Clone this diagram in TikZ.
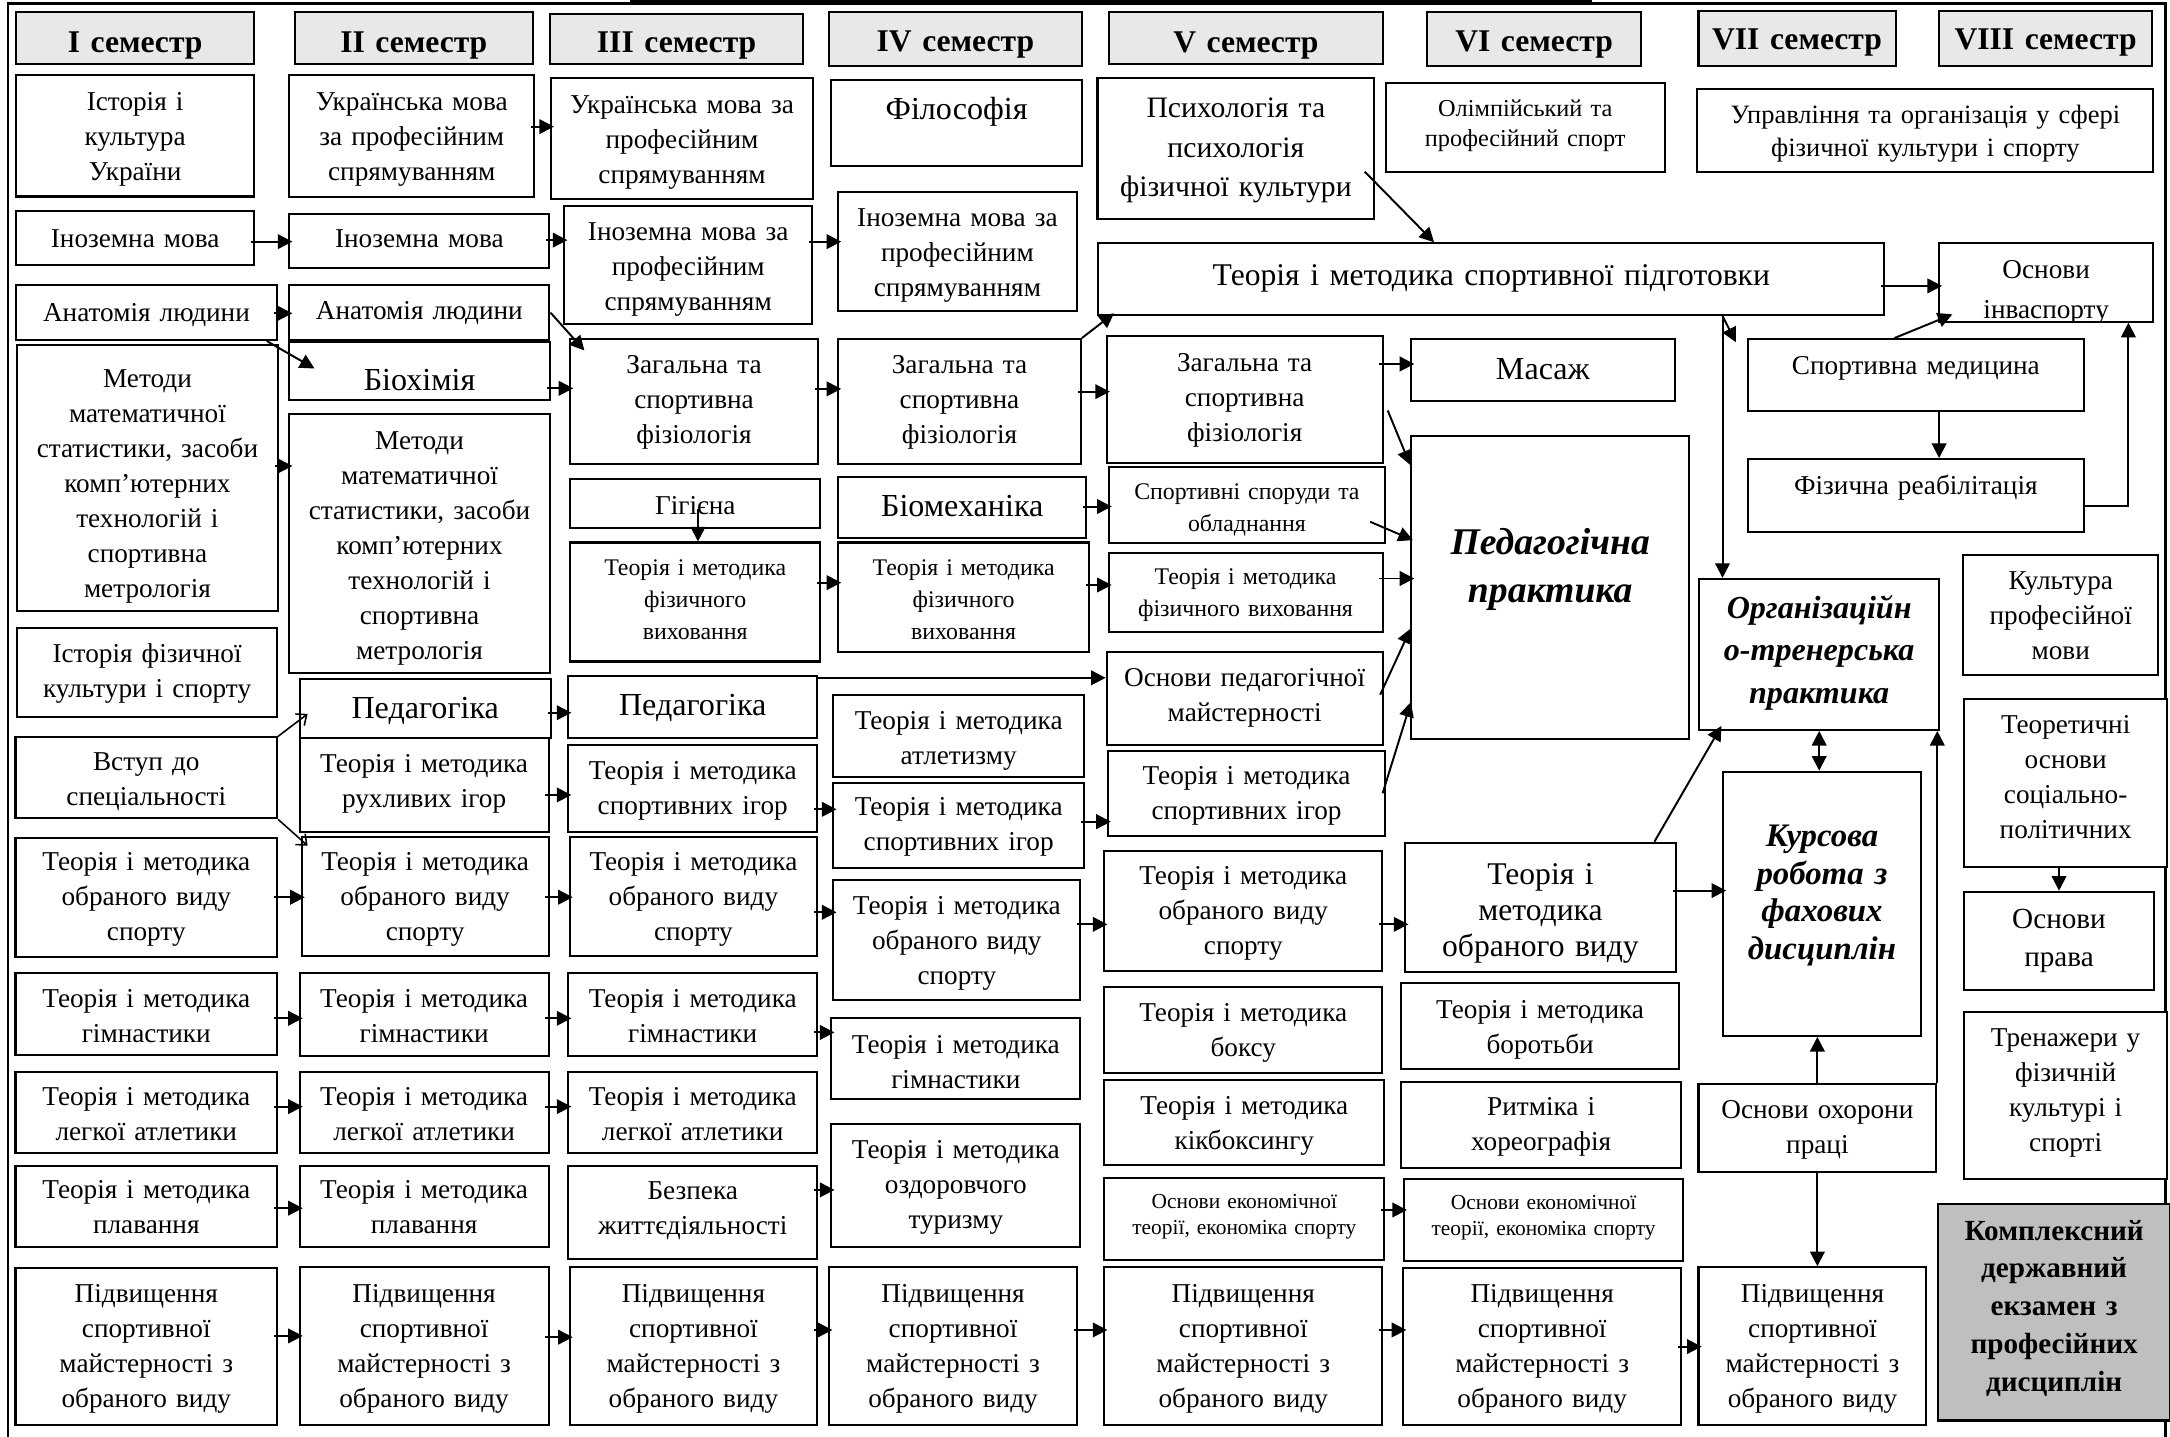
\documentclass[tikz,border=0pt]{standalone}
\usepackage{fontspec}
\setmainfont{Liberation Serif}
\usetikzlibrary{arrows.meta,calc}
\definecolor{hdgray}{gray}{0.91}
\definecolor{exgray}{gray}{0.75}
\newcommand\FtH{\fontsize{13}{15}\selectfont\bfseries}
\newcommand\FtN{\fontsize{11.2}{14.4}\selectfont}
\newcommand\FtS{\fontsize{9.8}{13.1}\selectfont}
\newcommand\FtL{\fontsize{13.2}{15}\selectfont}
\newcommand\FtLL{\fontsize{13}{14.8}\selectfont}
\newcommand\FtXS{\fontsize{8.8}{10.8}\selectfont}
\newcommand\FtP{\fontsize{12.2}{16.3}\selectfont}
\newcommand\FtM{\fontsize{13}{15}\selectfont}
\newcommand\FtO{\fontsize{10}{12.3}\selectfont}
\newcommand\FtU{\fontsize{10.9}{13.7}\selectfont}
\newcommand\FtIn{\fontsize{11.2}{16.5}\selectfont}
\newcommand\FtBI{\fontsize{15.5}{19.5}\selectfont\bfseries\itshape}
\newcommand\FtOrg{\fontsize{13.2}{17.4}\selectfont\bfseries\itshape}
\newcommand\FtK{\fontsize{13.5}{15.4}\selectfont\bfseries\itshape}
\newcommand\FtKD{\fontsize{12}{15.6}\selectfont\bfseries}
\newcommand\FtPr{\fontsize{12}{15.4}\selectfont}
% box: [opts]{name}{x1}{y1}{x2}{y2}{first baseline}{font}{text}
\newcommand\Bx[9][]{%
  \pgfmathsetmacro\BxW{(#5-#3)*0.02}%
  \pgfmathsetmacro\BxH{(#6-#4)*0.02}%
  \pgfmathsetmacro\BxT{(#5-#3+40)*0.02}%
  \node[bx,minimum width=\BxW cm,minimum height=\BxH cm,#1] (#2) at ({(#3+#5)/2},{(#4+#6)/2}) {};%
  \begin{scope}
  \clip (#2.north west) rectangle (#2.south east);
  \node[tx,font=#8,text width=\BxT cm] (#2-t) at ({(#3+#5)/2},#7) {#9};%
  \end{scope}%
}
\newcommand\Harr[3]{\draw[arr] ($(#1.east |- 0,#3)+(-3,0)$) -- ($(#2.west |- 0,#3)+(3,0)$);}
\begin{document}
\begin{tikzpicture}[x=0.02cm,y=-0.02cm,
  bx/.style={draw,line width=0.85pt,inner sep=0pt,fill=white},
  hd/.style={fill=hdgray},
  ex/.style={fill=exgray},
  tx/.style={anchor=base,inner sep=0pt,align=center},
  arr/.style={line width=0.8pt,-{Triangle[length=6pt,width=6pt]}},
  darr/.style={line width=0.8pt,{Triangle[length=6pt,width=6pt]}-{Triangle[length=6pt,width=6pt]}},
  oarr/.style={line width=0.65pt,-{Straight Barb[length=3.5pt,width=6pt]}},
  frm/.style={line width=1.1pt}]
\useasboundingbox (0,0) rectangle (1568,1038);
\draw[frm] (5.7,1045) -- (5.7,2.4) -- (1564.5,2.4) -- (1564.5,1045);
\draw[line width=0.8pt] (455,0.6) -- (1150,0.6);
% headers
\Bx[hd]{H1}{11.6}{8.4}{183.7}{46.5}{38}{\FtH}{I семестр}
\Bx[hd]{H2}{213}{8.4}{385}{46.5}{38}{\FtH}{II семестр}
\Bx[hd]{H3}{397.4}{10}{580.4}{46.5}{38}{\FtH}{III семестр}
\Bx[hd]{H4}{598.7}{8.4}{782}{48}{37.5}{\FtH}{IV семестр}
\Bx[hd]{H5}{801.5}{8.4}{999}{46.5}{38}{\FtH}{V семестр}
\Bx[hd]{H6}{1031}{8.4}{1186}{48}{37}{\FtH}{VI семестр}
\Bx[hd]{H7}{1227.3}{7.7}{1369.7}{47.7}{36}{\FtH}{VII семестр}
\Bx[hd]{H8}{1401.2}{7.7}{1555}{47.7}{36}{\FtH}{VIII семестр}
% column I
\Bx{C1a}{11.6}{54}{183.7}{142}{79.5}{\FtN}{Історія і\\культура\\України}
\Bx{C1b}{11.6}{152.5}{183.7}{191.5}{178.7}{\FtN}{Іноземна мова}
\Bx{C1c}{11.6}{206}{200}{245.7}{232}{\FtN}{Анатомія людини}
\Bx{C1d}{12.4}{249}{200.7}{441.2}{280}{\FtN}{Методи\\математичної\\статистики, засоби\\комп’ютерних\\технологій і\\спортивна\\метрологія}
\Bx{C1e}{12.4}{453.5}{200.2}{518.3}{479}{\FtN}{Історія фізичної\\культури і спорту}
\Bx{C1f}{11.2}{532.8}{200.2}{591.3}{557}{\FtN}{Вступ до\\спеціальності}
\Bx{C1g}{11.2}{605.2}{200.2}{691.2}{629}{\FtN}{Теорія і методика\\обраного виду\\спорту}
\Bx{C1h}{11.2}{703.3}{200.2}{762.2}{728}{\FtN}{Теорія і методика\\гімнастики}
\Bx{C1i}{11.2}{774.3}{200.2}{832.8}{799}{\FtN}{Теорія і методика\\легкої атлетики}
\Bx{C1j}{11.2}{842.5}{200.2}{901.2}{866}{\FtN}{Теорія і методика\\плавання}
\Bx{C1k}{11.2}{916.4}{200.2}{1029.6}{941}{\FtN}{Підвищення\\спортивної\\майстерності з\\обраного виду}
% column II
\Bx{C2a}{209}{54}{386}{142.6}{79.5}{\FtN}{Українська мова\\за професійним\\спрямуванням}
\Bx{C2b}{209}{154.6}{397}{193.4}{179}{\FtN}{Іноземна мова}
\Bx{C2c}{209}{206}{397}{245.7}{231}{\FtN}{Анатомія людини}
\Bx{C2d}{209}{247}{397.3}{289}{282}{\FtL}{Біохімія}
\Bx{C2e}{209}{299}{397.3}{486}{325}{\FtN}{Методи\\математичної\\статистики, засоби\\комп’ютерних\\технологій і\\спортивна\\метрологія}
\Bx{C2f}{216.5}{490.6}{398}{533.5}{519.5}{\FtL}{Педагогіка}
\Bx{C2g}{216.5}{533.5}{396.4}{601}{558}{\FtN}{Теорія і методика\\рухливих ігор}
\Bx{C2h}{218}{604.5}{396.4}{690.5}{629}{\FtN}{Теорія і методика\\обраного виду\\спорту}
\Bx{C2i}{216.5}{703.3}{396.4}{762.7}{728}{\FtN}{Теорія і методика\\гімнастики}
\Bx{C2j}{216.5}{774.3}{396.4}{832.8}{799}{\FtN}{Теорія і методика\\легкої атлетики}
\Bx{C2k}{216.5}{842.5}{396.4}{901.2}{866}{\FtN}{Теорія і методика\\плавання}
\Bx{C2l}{216.5}{915.2}{396.4}{1029.6}{941}{\FtN}{Підвищення\\спортивної\\майстерності з\\обраного виду}
% column III
\Bx{C3a}{398}{56.6}{587.6}{144}{82}{\FtN}{Українська мова за\\професійним\\спрямуванням}
\Bx{C3b}{407.7}{148.6}{586.8}{234.3}{173.5}{\FtN}{Іноземна мова за\\професійним\\спрямуванням}
\Bx{C3c}{412}{245}{591}{335.5}{270}{\FtN}{Загальна та\\спортивна\\фізіологія}
\Bx{C3d}{412}{346.3}{592.7}{381.7}{372}{\FtN}{Гігієна}
\Bx{C3e}{412}{392}{592.7}{478}{416}{\FtS}{Теорія і методика\\фізичного\\виховання}
\Bx{C3f}{410.6}{488.5}{590.5}{533.5}{517}{\FtL}{Педагогіка}
\Bx{C3g}{410.6}{538.3}{590.5}{601}{563}{\FtN}{Теорія і методика\\спортивних ігор}
\Bx{C3h}{411.6}{604.5}{590.5}{690.5}{629}{\FtN}{Теорія і методика\\обраного виду\\спорту}
\Bx{C3i}{410.6}{703.3}{590.5}{762.7}{728}{\FtN}{Теорія і методика\\гімнастики}
\Bx{C3j}{410.6}{774.3}{590.5}{832.8}{799}{\FtN}{Теорія і методика\\легкої атлетики}
\Bx{C3k}{410.6}{842.5}{590.5}{910}{867}{\FtN}{Безпека\\життєдіяльності}
\Bx{C3l}{411.6}{915.2}{590.5}{1029.6}{941}{\FtN}{Підвищення\\спортивної\\майстерності з\\обраного виду}
% column IV
\Bx{C4a}{600.5}{58}{782}{120}{86}{\FtL}{Філософія}
\Bx{C4b}{605.6}{138.5}{778}{224.5}{164}{\FtN}{Іноземна мова за\\професійним\\спрямуванням}
\Bx{C4c}{605.6}{245}{781}{335.5}{270}{\FtN}{Загальна та\\спортивна\\фізіологія}
\Bx{C4d}{605.6}{344.4}{785}{389}{373}{\FtL}{Біомеханіка}
\Bx{C4e}{605.6}{392}{787}{470.8}{416}{\FtS}{Теорія і методика\\фізичного\\виховання}
\Bx{C4f}{602.2}{502.2}{783.2}{561.2}{527}{\FtN}{Теорія і методика\\атлетизму}
\Bx{C4g}{602.2}{565.5}{783.2}{627.4}{589}{\FtN}{Теорія і методика\\спортивних ігор}
\Bx{C4h}{602.2}{635.8}{780.6}{722.5}{661}{\FtN}{Теорія і методика\\обраного виду\\спорту}
\Bx{C4i}{600.7}{735.8}{780.6}{794}{761}{\FtN}{Теорія і методика\\гімнастики}
\Bx{C4j}{600.7}{812.1}{780.6}{901.2}{837}{\FtN}{Теорія і методика\\оздоровчого\\туризму}
\Bx{C4k}{599.2}{915.2}{778.1}{1029.6}{941}{\FtN}{Підвищення\\спортивної\\майстерності з\\обраного виду}
% column V
\Bx{C5a}{793}{56.6}{993}{158.5}{85}{\FtP}{Психологія та\\психологія\\фізичної культури}
\Bx{C5b}{793.7}{175.8}{1361.5}{227.6}{206}{\FtM}{Теорія і методика спортивної підготовки}
\Bx{C5c}{799.7}{243}{999}{334.3}{268.6}{\FtN}{Загальна та\\спортивна\\фізіологія}
\Bx{C5d}{801}{337.2}{1001}{392.6}{361}{\FtS}{Спортивні споруди та\\обладнання}
\Bx{C5e}{801}{399.3}{999}{456.4}{422.7}{\FtS}{Теорія і методика\\фізичного виховання}
\Bx{C5f}{799.7}{470.8}{999}{538.3}{496}{\FtN}{Основи педагогічної\\майстерності}
\Bx{C5g}{800.4}{542.4}{1001}{604}{567}{\FtN}{Теорія і методика\\спортивних ігор}
\Bx{C5h}{797.9}{614.6}{998.8}{701.3}{639}{\FtN}{Теорія і методика\\обраного виду\\спорту}
\Bx{C5i}{797.9}{712.9}{998.8}{775}{738}{\FtN}{Теорія і методика\\боксу}
\Bx{C5j}{797.9}{780.3}{1000.3}{841.8}{805}{\FtN}{Теорія і методика\\кікбоксингу}
\Bx{C5k}{797.9}{851.4}{1000.3}{910.4}{873}{\FtXS}{Основи економічної\\теорії, економіка спорту}
\Bx{C5l}{797.9}{915.7}{998.8}{1029.6}{941}{\FtN}{Підвищення\\спортивної\\майстерності з\\обраного виду}
% column VI
\Bx{C6a}{1001.4}{59.7}{1202.8}{124}{84.3}{\FtO}{Олімпійський та\\професійний спорт}
\Bx{C6b}{1019.7}{245}{1210}{289.5}{274}{\FtL}{Масаж}
\Bx{C6c}{1019.7}{315}{1220.6}{534}{401}{\FtBI}{Педагогічна\\практика}
\Bx{C6d}{1015.4}{608.9}{1210.8}{702}{639}{\FtLL}{Теорія і\\методика\\обраного виду}
\Bx{C6e}{1012.4}{710.5}{1213.3}{772.6}{736}{\FtN}{Теорія і методика\\боротьби}
\Bx{C6f}{1012.4}{781.5}{1214.8}{844.2}{806}{\FtN}{Ритміка і\\хореографія}
\Bx{C6g}{1014.4}{851.9}{1216.3}{910.9}{874}{\FtXS}{Основи економічної\\теорії, економіка спорту}
\Bx{C6h}{1013.9}{916.4}{1214.8}{1029.6}{941}{\FtN}{Підвищення\\спортивної\\майстерності з\\обраного виду}
% column VII
\Bx{C7a}{1226.5}{64.5}{1556}{124}{89}{\FtU}{Управління та організація у сфері\\фізичної культури і спорту}
\Bx{C7b}{1401}{175.8}{1556}{232.4}{201}{\FtIn}{Основи\\інваспорту}
\Bx{C7c}{1263}{245}{1505.7}{297}{270.5}{\FtN}{Спортивна медицина}
\Bx{C7d}{1263}{331.7}{1505.7}{384.2}{357}{\FtN}{Фізична реабілітація}
\Bx{C7e}{1227.8}{418.3}{1401.2}{527.4}{447}{\FtOrg}{Організаційн\\о-тренерська\\практика}
\Bx{C7f}{1245}{557.6}{1388}{748.5}{612}{\FtK}{Курсова\\робота з\\фахових\\дисциплін}
\Bx{C7g}{1227.3}{783.2}{1399.1}{846.6}{808}{\FtN}{Основи охорони\\праці}
\Bx{C7h}{1227.3}{915.7}{1392}{1029.6}{941}{\FtN}{Підвищення\\спортивної\\майстерності з\\обраного виду}
% column VIII
\Bx{C8a}{1418.7}{401}{1559.4}{487.7}{426}{\FtN}{Культура\\професійної\\мови}
\Bx{C8b}{1419.2}{505.3}{1566}{626.7}{530}{\FtN}{Теоретичні\\основи\\соціально-\\політичних}
\Bx{C8c}{1419.2}{644.3}{1556.4}{715.3}{671}{\FtPr}{Основи\\права}
\Bx{C8d}{1419.2}{731}{1566}{852.1}{756}{\FtN}{Тренажери у\\фізичній\\культурі і\\спорті}
\Bx[ex]{C8e}{1400.6}{869.9}{1567.9}{1026.4}{896}{\FtKD}{Комплексний\\державний\\екзамен з\\професійних\\дисциплін}
% connectors
\Harr{C2a}{C3a}{91.5}
\Harr{C1b}{C2b}{174.6}
\Harr{C2b}{C3b}{173.5}
\Harr{C3b}{C4b}{174.6}
\Harr{C1c}{C2c}{226.4}
\draw[arr] ($(C1c.south east)+(-8,0)$) -- ($(C2d.north west)+(19,20)$);
\draw[arr] (C2c.east) -- ($(C3c.north west)+(11,9)$);
\Harr{C2d}{C3c}{280.6}
\Harr{C1d}{C2e}{336.7}
\Harr{C3c}{C4c}{281}
\draw[arr] (C4c.north east) -- ($(C5b.south west)+(12,-2)$);
\Harr{C4c}{C5c}{283}
\Harr{C5c}{C6b}{263}
\draw[arr] ($(C5c.east)+(3,8)$) -- ($(C6c.north west)+(0,21.7)$);
\draw[arr] ($(C5a.east)+(-7.6,16.5)$) -- ($(C5b.north west)+(243.3,0)$);
\Harr{C5b}{C7b}{206.6}
\coordinate (vx) at ($(C7e.north west)+(17.6,0)$);
\draw[arr] (C5b.south -| vx) -- ($(C7c.north west)+(-8,3)$);
\draw[arr] (C5b.south -| vx) -- (vx);
\draw[arr] ($(C7c.north west)+(106.7,0)$) -- ($(C7b.south west)+(10.5,-6)$);
\draw[arr] ($(C7c.south)+(16.8,0)$) -- ($(C7d.north)+(16.8,0)$);
\draw[arr] ($(C7d.east)+(0,8)$) -| ($(C7b.south west)+(137.7,0)$);
\draw[arr] ($(C3d.center)+(2,4)$) -- ($(C3e.north)+(2,0)$);
\Harr{C3e}{C4e}{421}
\Harr{C4d}{C5d}{366}
\Harr{C4e}{C5e}{422.7}
\draw[arr] ($(C5d.east)+(-11.7,12.1)$) -- ($(C6c.north west)+(2,76)$);
\Harr{C5e}{C6c}{418}
\draw[arr] ($(C5f.east)+(-2.5,-2.5)$) -- ($(C6c.north west)+(0.3,140)$);
\draw[arr] ($(C5g.east)+(-2.7,0)$) -- ($(C6c.north west)+(0.5,193.2)$);
\draw[arr] ($(C3f.north east)+(0,2)$) -- ($(C5f.north west)+(0,19.7)$);
\Harr{C2f}{C3f}{515}
\draw[oarr] (C1f.north east) -- ($(C2f.north west)+(6.5,26)$);
\draw[oarr] (C1f.south east) -- ($(C2h.north west)+(5,7.3)$);
\Harr{C2g}{C3g}{574.4}
\Harr{C3g}{C4g}{584.8}
\Harr{C4g}{C5g}{593.7}
\Harr{C1g}{C2h}{648.3}
\Harr{C2h}{C3h}{648.3}
\Harr{C3h}{C4h}{659.2}
\Harr{C4h}{C5h}{667.9}
\Harr{C5h}{C6d}{667.9}
\Harr{C6d}{C7f}{643.5}
\draw[arr] ($(C6d.north east)+(-16.1,0)$) -- ($(C7e.south west)+(16.8,-3.6)$);
\draw[darr] (C7e.south) -- (C7e.south |- C7f.north);
\draw[arr] (C7g.north) -- (C7g.north |- C7f.south);
\draw[arr] (C7g.north east) -- (C7g.north east |- C7e.south);
\draw[arr] (C7g.south) -- (C7g.south |- C7h.north);
\draw[arr] (C8c.north |- C8b.south) -- (C8c.north);
\Harr{C1h}{C2i}{735.8}
\Harr{C2i}{C3i}{735.8}
\Harr{C3i}{C4i}{746}
\Harr{C1i}{C2j}{799.6}
\Harr{C2j}{C3j}{799.6}
\Harr{C1j}{C2k}{873}
\Harr{C3k}{C4j}{859.8}
\Harr{C5k}{C6g}{874.3}
\Harr{C1k}{C2l}{965.3}
\Harr{C2l}{C3l}{966.2}
\Harr{C3l}{C4k}{961}
\Harr{C4k}{C5l}{961}
\Harr{C5l}{C6h}{961}
\Harr{C6h}{C7h}{973}
\end{tikzpicture}
\end{document}
